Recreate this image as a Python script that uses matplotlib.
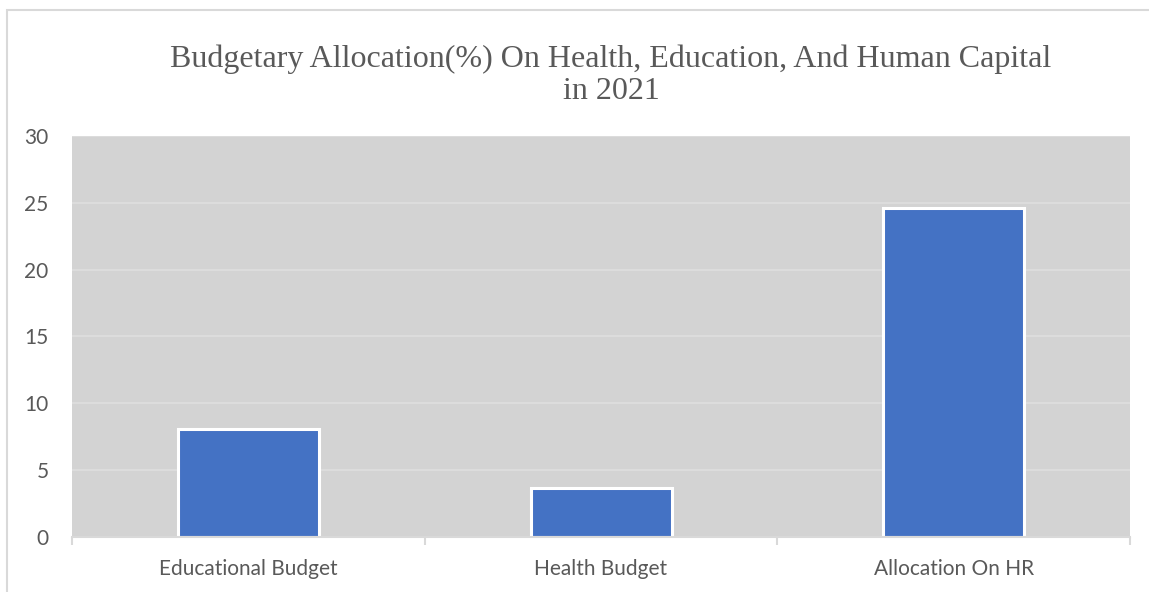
import matplotlib.pyplot as plt
from matplotlib.patches import Rectangle

# data
categories = ["Educational Budget", "Health Budget", "Allocation On HR"]
values = [8.1, 3.7, 24.6]
y_ticks = [0, 5, 10, 15, 20, 25, 30]

TITLE = "Budgetary Allocation(%) On Health, Education, And Human Capital\nin 2021"
BAR_COLOR = "#4472C4"
BG_COLOR = "#D3D3D3"
TEXT_COLOR = "#595959"

fig = plt.figure(figsize=(11.49, 5.92), dpi=100)
ax = fig.add_axes([0.0627, 0.0929, 0.9208, 0.6774])

# chart frame (cropped at right/bottom)
fig.patches.append(Rectangle((7 / 1149, -0.1), 1.2, 1 - 10 / 592 + 0.1,
                             transform=fig.transFigure, fill=False,
                             edgecolor="#D9D9D9", linewidth=1.5))

ax.set_facecolor(BG_COLOR)
x = range(len(categories))
ax.bar(x, values, width=0.4, color=BAR_COLOR, edgecolor="white", linewidth=2.2, zorder=3)

ax.set_xlim(-0.5, len(categories) - 0.5)
ax.set_ylim(0, 30)
ax.set_yticks(y_ticks)
ax.set_yticklabels([str(t) for t in y_ticks])
ax.grid(axis="y", color="#DCDCDC", linewidth=1.5, zorder=1)

for s in ["top", "right", "left"]:
    ax.spines[s].set_visible(False)
ax.spines["bottom"].set_color("#D9D9D9")
ax.spines["bottom"].set_linewidth(1.5)
ax.spines["bottom"].set_zorder(4)

ax.set_xticks(list(x))
ax.set_xticklabels(categories)
ax.set_xticks([i - 0.5 for i in range(len(categories) + 1)], minor=True)
ax.tick_params(axis="x", which="major", length=0, pad=16, labelsize=15,
               labelcolor=TEXT_COLOR)
ax.tick_params(axis="x", which="minor", length=6, width=1.5, color="#D9D9D9")
ax.tick_params(axis="y", length=0, pad=17, labelsize=15, labelcolor=TEXT_COLOR)
for lab in ax.get_xticklabels() + ax.get_yticklabels():
    lab.set_family(["Lato", "DejaVu Sans"])

fig.text(0.5318, 0.873, TITLE, ha="center", va="center", fontsize=23,
         family=["Liberation Serif", "DejaVu Serif"], color=TEXT_COLOR,
         linespacing=1.15)

plt.savefig("out.png", dpi=100)
plt.close()
